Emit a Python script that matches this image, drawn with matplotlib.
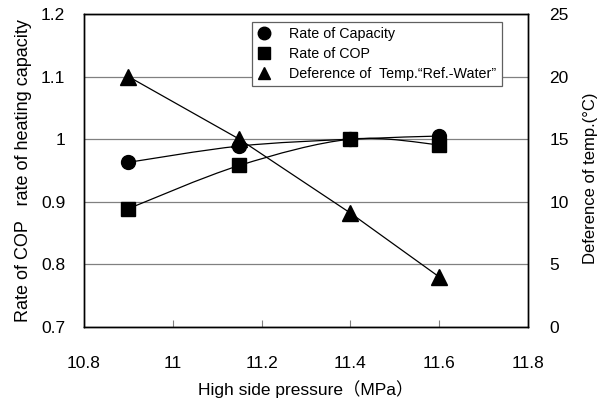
import numpy as np
import matplotlib.pyplot as plt
from matplotlib.path import Path
from matplotlib.patches import PathPatch
from matplotlib.lines import Line2D

plt.rcParams['font.family'] = ['Liberation Sans', 'Noto Sans CJK JP', 'DejaVu Sans']

# high side pressure (MPa)
pressure = [10.9, 11.15, 11.4, 11.6]
# ratios (left axis)
rate_capacity = [0.963, 0.989, 1.000, 1.005]
rate_cop = [0.889, 0.958, 1.000, 0.991]
# refrigerant - water temperature difference (right axis, degC)
temp_diff = [20.0, 15.0, 9.1, 4.0]


def smooth_path(xs, ys, ax, tension=1 / 6):
    # Catmull-Rom style cubic bezier through the points, in display space
    pts = ax.transData.transform(np.column_stack([xs, ys]))
    verts = [pts[0]]
    codes = [Path.MOVETO]
    n = len(pts)
    for i in range(n - 1):
        p0 = pts[i - 1] if i > 0 else pts[i]
        p1 = pts[i]
        p2 = pts[i + 1]
        p3 = pts[i + 2] if i + 2 < n else pts[i + 1]
        c1 = p1 + (p2 - p0) * tension
        c2 = p2 - (p3 - p1) * tension
        verts += [c1, c2, p2]
        codes += [Path.CURVE4] * 3
    return Path(verts, codes)


fig = plt.figure(figsize=(6.06, 3.99), dpi=100)
ax = fig.add_axes([0.1386, 0.1805, 0.7326, 0.7845])
ax2 = ax.twinx()

ax.set_xlim(10.8, 11.8)
ax.set_ylim(0.7, 1.2)
ax2.set_ylim(0, 25)

ax.set_xticks([10.8, 11.0, 11.2, 11.4, 11.6, 11.8])
ax.set_xticklabels(['10.8', '11', '11.2', '11.4', '11.6', '11.8'])
ax.set_yticks([0.7, 0.8, 0.9, 1.0, 1.1, 1.2])
ax.set_yticklabels(['0.7', '0.8', '0.9', '1', '1.1', '1.2'])
ax2.set_yticks([0, 5, 10, 15, 20, 25])

ax.grid(axis='y', color='#808080', lw=0.9)
ax.set_axisbelow(True)
ax.tick_params(axis='x', direction='in', length=5, labelsize=12.5, pad=21, color='#808080')
ax.tick_params(axis='y', length=0, labelsize=12.5, pad=13.5)
ax2.tick_params(axis='y', length=0, labelsize=12.5, pad=15.5)
for a in (ax, ax2):
    for s in a.spines.values():
        s.set_linewidth(1.0)
        s.set_color('black')

fig.canvas.draw()
for ys in (rate_capacity, rate_cop):
    ax.add_patch(PathPatch(smooth_path(pressure, ys, ax), transform=None,
                           fill=False, lw=0.9, color='black', zorder=3))
ax.plot(pressure, rate_capacity, 'o', ms=10, color='black', ls='none', zorder=4)
ax.plot(pressure, rate_cop, 's', ms=10, color='black', ls='none', zorder=4)
ax2.plot(pressure, temp_diff, '^', ms=11, color='black', lw=0.9, ls='-', zorder=4)

ax.set_xlabel('High side pressure\uff08MPa\uff09', fontsize=12.5)
ax.xaxis.set_label_coords(0.5, -0.17)
ax.set_ylabel('Rate of COP   rate of heating capacity', fontsize=13)
ax.yaxis.set_label_coords(-0.118, 0.5)
ax2.set_ylabel('Deference of temp.(\u00b0C)', fontsize=12)
ax2.yaxis.set_label_coords(1.125, 0.476)

handles = [
    Line2D([], [], marker='o', color='black', ls='none', ms=9),
    Line2D([], [], marker='s', color='black', ls='none', ms=9),
    Line2D([], [], marker='^', color='black', ls='none', ms=9),
]
labels = ['Rate of Capacity', 'Rate of COP',
          'Deference of  Temp.\u201cRef.-Water\u201d']
leg = ax2.legend(handles, labels, loc='upper left', bbox_to_anchor=(0.379, 0.974),
                 borderaxespad=0, fontsize=10.3, frameon=True, fancybox=False,
                 edgecolor='#606060', framealpha=1,
                 handlelength=1.0, handletextpad=1.25, borderpad=0.35, labelspacing=0.4)
leg.get_frame().set_linewidth(0.9)

fig.savefig('out.png', dpi=100)
